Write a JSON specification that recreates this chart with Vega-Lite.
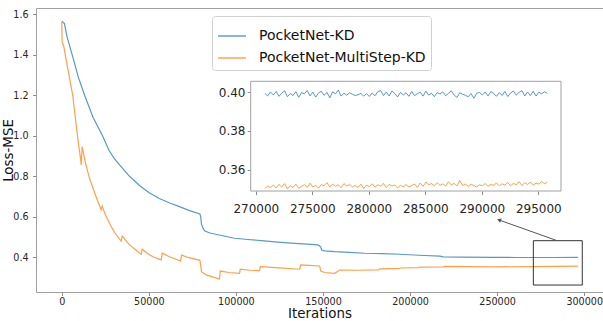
{
  "$schema": "https://vega.github.io/schema/vega-lite/v6.json",
  "width": 567,
  "height": 284,
  "autosize": "none",
  "padding": {"left": 36, "top": 8, "right": 0, "bottom": 29},
  "background": "white",
  "config": {
    "view": {"stroke": "#a0a0a0", "strokeWidth": 1},
    "axis": {"grid": false, "domain": false, "tickColor": "#8a8a8a", "tickSize": 3.4, "labelColor": "#262626", "labelFont": "DejaVu Sans", "titleFont": "DejaVu Sans", "titleFontWeight": "normal", "titleColor": "#111111", "labelFontSize": 9.6, "titleFontSize": 13.4},
    "legend": {"orient": "none", "legendX": 176, "legendY": 8, "padding": 5, "labelFontSize": 14, "labelFont": "DejaVu Sans", "labelColor": "#111111", "labelLimit": 0, "symbolType": "stroke", "symbolSize": 784, "symbolStrokeWidth": 1.5, "symbolOpacity": 0.7, "rowPadding": -7, "labelOffset": 12, "strokeColor": "#d0d0d0", "fillColor": "white", "cornerRadius": 3}
  },
  "datasets": {
    "main": [
      {"s": "PocketNet-KD", "it": 0, "loss": 1.565},
      {"s": "PocketNet-KD", "it": 1500, "loss": 1.555},
      {"s": "PocketNet-KD", "it": 3000, "loss": 1.49},
      {"s": "PocketNet-KD", "it": 6000, "loss": 1.40},
      {"s": "PocketNet-KD", "it": 9500, "loss": 1.29},
      {"s": "PocketNet-KD", "it": 13100, "loss": 1.20},
      {"s": "PocketNet-KD", "it": 18000, "loss": 1.09},
      {"s": "PocketNet-KD", "it": 23400, "loss": 1.00},
      {"s": "PocketNet-KD", "it": 27000, "loss": 0.93},
      {"s": "PocketNet-KD", "it": 30000, "loss": 0.89},
      {"s": "PocketNet-KD", "it": 33200, "loss": 0.856},
      {"s": "PocketNet-KD", "it": 38900, "loss": 0.80},
      {"s": "PocketNet-KD", "it": 45000, "loss": 0.752},
      {"s": "PocketNet-KD", "it": 50000, "loss": 0.72},
      {"s": "PocketNet-KD", "it": 56000, "loss": 0.69},
      {"s": "PocketNet-KD", "it": 62000, "loss": 0.668},
      {"s": "PocketNet-KD", "it": 67600, "loss": 0.65},
      {"s": "PocketNet-KD", "it": 73000, "loss": 0.632},
      {"s": "PocketNet-KD", "it": 79300, "loss": 0.614},
      {"s": "PocketNet-KD", "it": 79800, "loss": 0.60},
      {"s": "PocketNet-KD", "it": 80200, "loss": 0.565},
      {"s": "PocketNet-KD", "it": 81000, "loss": 0.545},
      {"s": "PocketNet-KD", "it": 82000, "loss": 0.531},
      {"s": "PocketNet-KD", "it": 85000, "loss": 0.52},
      {"s": "PocketNet-KD", "it": 87700, "loss": 0.515},
      {"s": "PocketNet-KD", "it": 93000, "loss": 0.505},
      {"s": "PocketNet-KD", "it": 99200, "loss": 0.494},
      {"s": "PocketNet-KD", "it": 107000, "loss": 0.488},
      {"s": "PocketNet-KD", "it": 114600, "loss": 0.482},
      {"s": "PocketNet-KD", "it": 124000, "loss": 0.475},
      {"s": "PocketNet-KD", "it": 133700, "loss": 0.469},
      {"s": "PocketNet-KD", "it": 141000, "loss": 0.465},
      {"s": "PocketNet-KD", "it": 147100, "loss": 0.461},
      {"s": "PocketNet-KD", "it": 148700, "loss": 0.452},
      {"s": "PocketNet-KD", "it": 149200, "loss": 0.436},
      {"s": "PocketNet-KD", "it": 151000, "loss": 0.432},
      {"s": "PocketNet-KD", "it": 156700, "loss": 0.428},
      {"s": "PocketNet-KD", "it": 165000, "loss": 0.424},
      {"s": "PocketNet-KD", "it": 174000, "loss": 0.42},
      {"s": "PocketNet-KD", "it": 184000, "loss": 0.418},
      {"s": "PocketNet-KD", "it": 194100, "loss": 0.415},
      {"s": "PocketNet-KD", "it": 205000, "loss": 0.41},
      {"s": "PocketNet-KD", "it": 217100, "loss": 0.406},
      {"s": "PocketNet-KD", "it": 219000, "loss": 0.402},
      {"s": "PocketNet-KD", "it": 230000, "loss": 0.401},
      {"s": "PocketNet-KD", "it": 247500, "loss": 0.4},
      {"s": "PocketNet-KD", "it": 260000, "loss": 0.399},
      {"s": "PocketNet-KD", "it": 270500, "loss": 0.399},
      {"s": "PocketNet-KD", "it": 283000, "loss": 0.399},
      {"s": "PocketNet-KD", "it": 296400, "loss": 0.4},
      {"s": "PocketNet-MultiStep-KD", "it": 0, "loss": 1.563},
      {"s": "PocketNet-MultiStep-KD", "it": 200, "loss": 1.465},
      {"s": "PocketNet-MultiStep-KD", "it": 1200, "loss": 1.44},
      {"s": "PocketNet-MultiStep-KD", "it": 2000, "loss": 1.40},
      {"s": "PocketNet-MultiStep-KD", "it": 6300, "loss": 1.20},
      {"s": "PocketNet-MultiStep-KD", "it": 9000, "loss": 1.00},
      {"s": "PocketNet-MultiStep-KD", "it": 10900, "loss": 0.88},
      {"s": "PocketNet-MultiStep-KD", "it": 11150, "loss": 0.856},
      {"s": "PocketNet-MultiStep-KD", "it": 11700, "loss": 0.946},
      {"s": "PocketNet-MultiStep-KD", "it": 13500, "loss": 0.87},
      {"s": "PocketNet-MultiStep-KD", "it": 15900, "loss": 0.79},
      {"s": "PocketNet-MultiStep-KD", "it": 19700, "loss": 0.699},
      {"s": "PocketNet-MultiStep-KD", "it": 22600, "loss": 0.634},
      {"s": "PocketNet-MultiStep-KD", "it": 23200, "loss": 0.653},
      {"s": "PocketNet-MultiStep-KD", "it": 25000, "loss": 0.61},
      {"s": "PocketNet-MultiStep-KD", "it": 27400, "loss": 0.568},
      {"s": "PocketNet-MultiStep-KD", "it": 30500, "loss": 0.52},
      {"s": "PocketNet-MultiStep-KD", "it": 34100, "loss": 0.48},
      {"s": "PocketNet-MultiStep-KD", "it": 34700, "loss": 0.505},
      {"s": "PocketNet-MultiStep-KD", "it": 38900, "loss": 0.461},
      {"s": "PocketNet-MultiStep-KD", "it": 42000, "loss": 0.44},
      {"s": "PocketNet-MultiStep-KD", "it": 45600, "loss": 0.415},
      {"s": "PocketNet-MultiStep-KD", "it": 46200, "loss": 0.44},
      {"s": "PocketNet-MultiStep-KD", "it": 49000, "loss": 0.42},
      {"s": "PocketNet-MultiStep-KD", "it": 52300, "loss": 0.403},
      {"s": "PocketNet-MultiStep-KD", "it": 57100, "loss": 0.387},
      {"s": "PocketNet-MultiStep-KD", "it": 57700, "loss": 0.42},
      {"s": "PocketNet-MultiStep-KD", "it": 61900, "loss": 0.403},
      {"s": "PocketNet-MultiStep-KD", "it": 68200, "loss": 0.382},
      {"s": "PocketNet-MultiStep-KD", "it": 68800, "loss": 0.411},
      {"s": "PocketNet-MultiStep-KD", "it": 73000, "loss": 0.398},
      {"s": "PocketNet-MultiStep-KD", "it": 79300, "loss": 0.385},
      {"s": "PocketNet-MultiStep-KD", "it": 79800, "loss": 0.36},
      {"s": "PocketNet-MultiStep-KD", "it": 80200, "loss": 0.329},
      {"s": "PocketNet-MultiStep-KD", "it": 83000, "loss": 0.313},
      {"s": "PocketNet-MultiStep-KD", "it": 87000, "loss": 0.302},
      {"s": "PocketNet-MultiStep-KD", "it": 90600, "loss": 0.293},
      {"s": "PocketNet-MultiStep-KD", "it": 91000, "loss": 0.332},
      {"s": "PocketNet-MultiStep-KD", "it": 96000, "loss": 0.325},
      {"s": "PocketNet-MultiStep-KD", "it": 102100, "loss": 0.321},
      {"s": "PocketNet-MultiStep-KD", "it": 102500, "loss": 0.341},
      {"s": "PocketNet-MultiStep-KD", "it": 108000, "loss": 0.336},
      {"s": "PocketNet-MultiStep-KD", "it": 113600, "loss": 0.334},
      {"s": "PocketNet-MultiStep-KD", "it": 114000, "loss": 0.354},
      {"s": "PocketNet-MultiStep-KD", "it": 125000, "loss": 0.348},
      {"s": "PocketNet-MultiStep-KD", "it": 136600, "loss": 0.341},
      {"s": "PocketNet-MultiStep-KD", "it": 137200, "loss": 0.362},
      {"s": "PocketNet-MultiStep-KD", "it": 142000, "loss": 0.36},
      {"s": "PocketNet-MultiStep-KD", "it": 148100, "loss": 0.357},
      {"s": "PocketNet-MultiStep-KD", "it": 148700, "loss": 0.332},
      {"s": "PocketNet-MultiStep-KD", "it": 151000, "loss": 0.325},
      {"s": "PocketNet-MultiStep-KD", "it": 156700, "loss": 0.321},
      {"s": "PocketNet-MultiStep-KD", "it": 159600, "loss": 0.337},
      {"s": "PocketNet-MultiStep-KD", "it": 171000, "loss": 0.336},
      {"s": "PocketNet-MultiStep-KD", "it": 182000, "loss": 0.338},
      {"s": "PocketNet-MultiStep-KD", "it": 182600, "loss": 0.343},
      {"s": "PocketNet-MultiStep-KD", "it": 194000, "loss": 0.345},
      {"s": "PocketNet-MultiStep-KD", "it": 194600, "loss": 0.347},
      {"s": "PocketNet-MultiStep-KD", "it": 205000, "loss": 0.349},
      {"s": "PocketNet-MultiStep-KD", "it": 205600, "loss": 0.351},
      {"s": "PocketNet-MultiStep-KD", "it": 219000, "loss": 0.352},
      {"s": "PocketNet-MultiStep-KD", "it": 219600, "loss": 0.355},
      {"s": "PocketNet-MultiStep-KD", "it": 247500, "loss": 0.353},
      {"s": "PocketNet-MultiStep-KD", "it": 270500, "loss": 0.354},
      {"s": "PocketNet-MultiStep-KD", "it": 296400, "loss": 0.356}
    ],
    "inset": [
      {"x": 270800, "kd": 0.3993, "ms": 0.3505},
      {"x": 271050, "kd": 0.3980, "ms": 0.3518},
      {"x": 271300, "kd": 0.4000, "ms": 0.3510},
      {"x": 271550, "kd": 0.3985, "ms": 0.3522},
      {"x": 271800, "kd": 0.4003, "ms": 0.3508},
      {"x": 272050, "kd": 0.3978, "ms": 0.3526},
      {"x": 272300, "kd": 0.3994, "ms": 0.3512},
      {"x": 272550, "kd": 0.4006, "ms": 0.3530},
      {"x": 272800, "kd": 0.3976, "ms": 0.3503},
      {"x": 273050, "kd": 0.3992, "ms": 0.3519},
      {"x": 273300, "kd": 0.3982, "ms": 0.3511},
      {"x": 273550, "kd": 0.4002, "ms": 0.3527},
      {"x": 273800, "kd": 0.3973, "ms": 0.3506},
      {"x": 274050, "kd": 0.3997, "ms": 0.3516},
      {"x": 274300, "kd": 0.3990, "ms": 0.3524},
      {"x": 274550, "kd": 0.4008, "ms": 0.3510},
      {"x": 274800, "kd": 0.3980, "ms": 0.3532},
      {"x": 275050, "kd": 0.3999, "ms": 0.3513},
      {"x": 275300, "kd": 0.3974, "ms": 0.3521},
      {"x": 275550, "kd": 0.3995, "ms": 0.3507},
      {"x": 275800, "kd": 0.4004, "ms": 0.3525},
      {"x": 276050, "kd": 0.3983, "ms": 0.3519},
      {"x": 276300, "kd": 0.3998, "ms": 0.3535},
      {"x": 276550, "kd": 0.3970, "ms": 0.3512},
      {"x": 276800, "kd": 0.4001, "ms": 0.3528},
      {"x": 277050, "kd": 0.3991, "ms": 0.3516},
      {"x": 277300, "kd": 0.4010, "ms": 0.3524},
      {"x": 277550, "kd": 0.3979, "ms": 0.3509},
      {"x": 277800, "kd": 0.3994, "ms": 0.3530},
      {"x": 278050, "kd": 0.3984, "ms": 0.3518},
      {"x": 278300, "kd": 0.3996, "ms": 0.3526},
      {"x": 278550, "kd": 0.3989, "ms": 0.3513},
      {"x": 278800, "kd": 0.3982, "ms": 0.3521},
      {"x": 279050, "kd": 0.3986, "ms": 0.3511},
      {"x": 279300, "kd": 0.3993, "ms": 0.3527},
      {"x": 279550, "kd": 0.3979, "ms": 0.3505},
      {"x": 279800, "kd": 0.3991, "ms": 0.3522},
      {"x": 280050, "kd": 0.3977, "ms": 0.3515},
      {"x": 280300, "kd": 0.3995, "ms": 0.3529},
      {"x": 280550, "kd": 0.3981, "ms": 0.3512},
      {"x": 280800, "kd": 0.4002, "ms": 0.3524},
      {"x": 281050, "kd": 0.4007, "ms": 0.3517},
      {"x": 281300, "kd": 0.3982, "ms": 0.3531},
      {"x": 281550, "kd": 0.4000, "ms": 0.3510},
      {"x": 281800, "kd": 0.3980, "ms": 0.3526},
      {"x": 282050, "kd": 0.4005, "ms": 0.3518},
      {"x": 282300, "kd": 0.3992, "ms": 0.3523},
      {"x": 282550, "kd": 0.3975, "ms": 0.3508},
      {"x": 282800, "kd": 0.3998, "ms": 0.3521},
      {"x": 283050, "kd": 0.3985, "ms": 0.3514},
      {"x": 283300, "kd": 0.3996, "ms": 0.3525},
      {"x": 283550, "kd": 0.3978, "ms": 0.3513},
      {"x": 283800, "kd": 0.4003, "ms": 0.3520},
      {"x": 284050, "kd": 0.3982, "ms": 0.3528},
      {"x": 284300, "kd": 0.3991, "ms": 0.3511},
      {"x": 284550, "kd": 0.3999, "ms": 0.3533},
      {"x": 284800, "kd": 0.3979, "ms": 0.3516},
      {"x": 285050, "kd": 0.4004, "ms": 0.3538},
      {"x": 285300, "kd": 0.3984, "ms": 0.3524},
      {"x": 285550, "kd": 0.3994, "ms": 0.3530},
      {"x": 285800, "kd": 0.3976, "ms": 0.3519},
      {"x": 286050, "kd": 0.3997, "ms": 0.3535},
      {"x": 286300, "kd": 0.3990, "ms": 0.3521},
      {"x": 286550, "kd": 0.4001, "ms": 0.3529},
      {"x": 286800, "kd": 0.3981, "ms": 0.3517},
      {"x": 287050, "kd": 0.3993, "ms": 0.3540},
      {"x": 287300, "kd": 0.4006, "ms": 0.3523},
      {"x": 287550, "kd": 0.3985, "ms": 0.3531},
      {"x": 287800, "kd": 0.3972, "ms": 0.3518},
      {"x": 288050, "kd": 0.3996, "ms": 0.3546},
      {"x": 288300, "kd": 0.3989, "ms": 0.3520},
      {"x": 288550, "kd": 0.3983, "ms": 0.3528},
      {"x": 288800, "kd": 0.3976, "ms": 0.3515},
      {"x": 289050, "kd": 0.3992, "ms": 0.3527},
      {"x": 289300, "kd": 0.3968, "ms": 0.3520},
      {"x": 289550, "kd": 0.3994, "ms": 0.3512},
      {"x": 289800, "kd": 0.3998, "ms": 0.3524},
      {"x": 290050, "kd": 0.3985, "ms": 0.3519},
      {"x": 290300, "kd": 0.4000, "ms": 0.3530},
      {"x": 290550, "kd": 0.3980, "ms": 0.3516},
      {"x": 290800, "kd": 0.4002, "ms": 0.3526},
      {"x": 291050, "kd": 0.3993, "ms": 0.3521},
      {"x": 291300, "kd": 0.3978, "ms": 0.3533},
      {"x": 291550, "kd": 0.3997, "ms": 0.3518},
      {"x": 291800, "kd": 0.3982, "ms": 0.3529},
      {"x": 292050, "kd": 0.4003, "ms": 0.3522},
      {"x": 292300, "kd": 0.3977, "ms": 0.3536},
      {"x": 292550, "kd": 0.3995, "ms": 0.3519},
      {"x": 292800, "kd": 0.4005, "ms": 0.3531},
      {"x": 293050, "kd": 0.3984, "ms": 0.3524},
      {"x": 293300, "kd": 0.3998, "ms": 0.3540},
      {"x": 293550, "kd": 0.4007, "ms": 0.3520},
      {"x": 293800, "kd": 0.3980, "ms": 0.3534},
      {"x": 294050, "kd": 0.4000, "ms": 0.3526},
      {"x": 294300, "kd": 0.3982, "ms": 0.3538},
      {"x": 294550, "kd": 0.4004, "ms": 0.3523},
      {"x": 294800, "kd": 0.3979, "ms": 0.3532},
      {"x": 295050, "kd": 0.3999, "ms": 0.3528},
      {"x": 295300, "kd": 0.3991, "ms": 0.3541},
      {"x": 295550, "kd": 0.4001, "ms": 0.3530},
      {"x": 295800, "kd": 0.3994, "ms": 0.3536}
    ],
    "box": [{"it": 270800, "it2": 298900, "loss": 0.263, "loss2": 0.482}],
    "arrow": [{"it": 284500, "loss": 0.482, "it2": 251100, "loss2": 0.5842}],
    "head": [{"it": 251100, "loss": 0.5842}],
    "frame": [{"x": 269550, "x2": 297010, "v": 0.3492, "v2": 0.4055}]
  },
  "layer": [
    {
      "layer": [
        {
          "data": {"name": "main"},
          "mark": {"type": "line", "strokeWidth": 1.2, "opacity": 0.75},
          "encoding": {
            "x": {"field": "it", "type": "quantitative", "scale": {"domain": [-14800, 310800], "nice": false, "zero": false}, "axis": {"title": "Iterations", "values": [0, 50000, 100000, 150000, 200000, 250000, 300000], "format": "d", "labelPadding": 1.5, "titlePadding": 0}},
            "y": {"field": "loss", "type": "quantitative", "scale": {"domain": [0.2286, 1.6311], "nice": false, "zero": false}, "axis": {"title": "Loss-MSE", "values": [0.4, 0.6, 0.8, 1.0, 1.2, 1.4, 1.6], "format": ".1f", "labelPadding": 4.5, "titlePadding": -2.5}},
            "color": {"field": "s", "type": "nominal", "scale": {"domain": ["PocketNet-KD", "PocketNet-MultiStep-KD"], "range": ["#1f77b4", "#ff7f0e"]}, "legend": {"title": null}}
          }
        },
        {
          "data": {"name": "box"},
          "mark": {"type": "rect", "fillOpacity": 0, "stroke": "#333333", "strokeWidth": 1},
          "encoding": {
            "x": {"field": "it", "type": "quantitative", "axis": {"title": "Iterations"}},
            "x2": {"field": "it2"},
            "y": {"field": "loss", "type": "quantitative", "axis": {"title": "Loss-MSE"}},
            "y2": {"field": "loss2"}
          }
        },
        {
          "data": {"name": "arrow"},
          "mark": {"type": "rule", "stroke": "#555555", "strokeWidth": 1},
          "encoding": {
            "x": {"field": "it", "type": "quantitative", "axis": {"title": "Iterations"}},
            "x2": {"field": "it2"},
            "y": {"field": "loss", "type": "quantitative", "axis": {"title": "Loss-MSE"}},
            "y2": {"field": "loss2"}
          }
        },
        {
          "data": {"name": "head"},
          "mark": {"type": "point", "shape": "triangle-up", "angle": 289, "filled": true, "size": 22, "color": "#555555", "opacity": 1},
          "encoding": {
            "x": {"field": "it", "type": "quantitative", "axis": {"title": "Iterations"}},
            "y": {"field": "loss", "type": "quantitative", "axis": {"title": "Loss-MSE"}}
          }
        }
      ]
    },
    {
      "layer": [
        {
          "data": {"name": "frame"},
          "mark": {"type": "rect", "fill": "white", "stroke": "#a0a0a0", "strokeWidth": 1},
          "encoding": {
            "x": {"field": "x", "type": "quantitative", "scale": {"domain": [269550, 297010], "range": [214.7, 525], "nice": false, "zero": false}, "axis": {"orient": "bottom", "offset": -101, "title": null, "values": [270000, 275000, 280000, 285000, 290000, 295000], "format": "d", "labelFontSize": 12, "labelPadding": 9, "tickSize": 3.5}},
            "x2": {"field": "x2"},
            "y": {"field": "v", "type": "quantitative", "scale": {"domain": [0.3492, 0.4055], "range": [183, 73.3], "nice": false, "zero": false}, "axis": {"orient": "left", "offset": -214.7, "title": null, "values": [0.36, 0.38, 0.40], "format": ".2f", "labelFontSize": 12, "labelPadding": 2.2, "tickSize": 3.5}},
            "y2": {"field": "v2"}
          }
        },
        {
          "data": {"name": "inset"},
          "mark": {"type": "line", "strokeWidth": 1, "opacity": 0.75, "color": "#1f77b4"},
          "encoding": {
            "x": {"field": "x", "type": "quantitative"},
            "y": {"field": "kd", "type": "quantitative"}
          }
        },
        {
          "data": {"name": "inset"},
          "mark": {"type": "line", "strokeWidth": 1, "opacity": 0.75, "color": "#ff7f0e"},
          "encoding": {
            "x": {"field": "x", "type": "quantitative"},
            "y": {"field": "ms", "type": "quantitative"}
          }
        }
      ]
    }
  ],
  "resolve": {"scale": {"x": "independent", "y": "independent"}}
}
